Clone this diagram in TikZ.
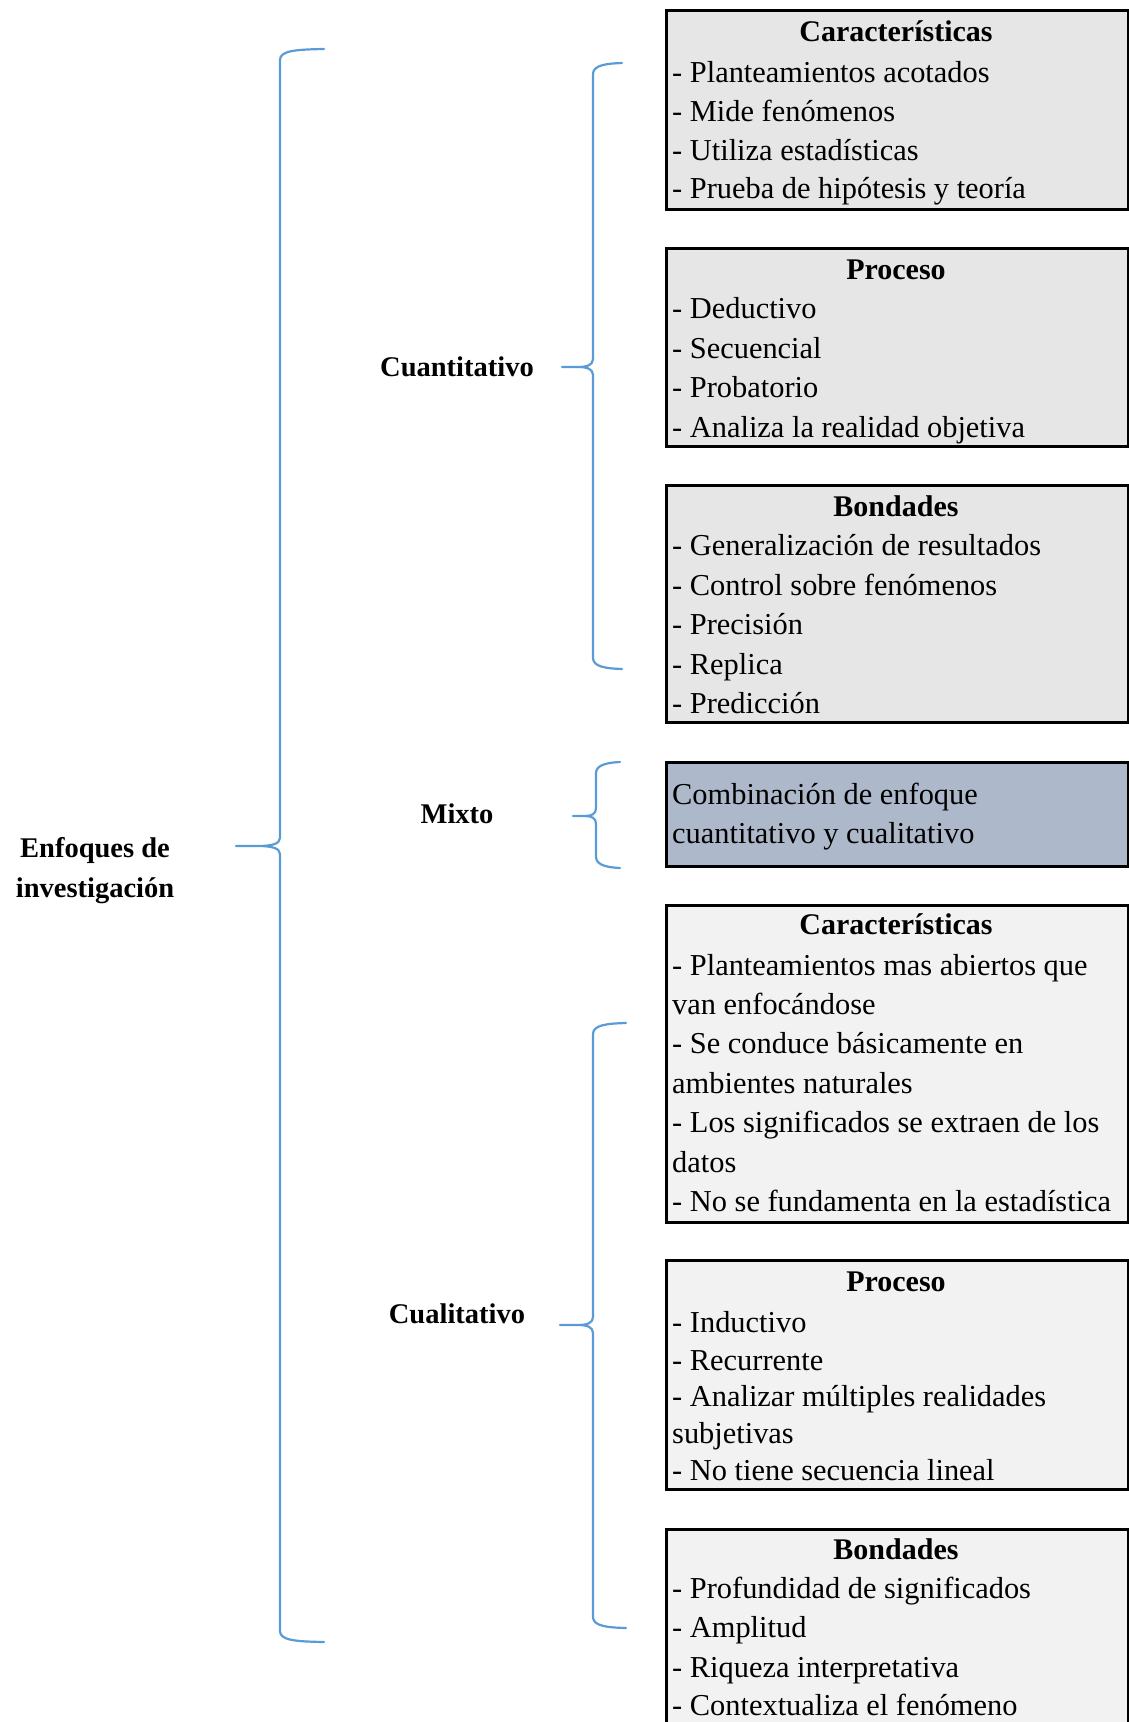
\documentclass[tikz,border=0pt]{standalone}
\usepackage{fontspec}
\setmainfont{Liberation Serif}
\usetikzlibrary{calc}
\definecolor{bracecol}{HTML}{5B9BD5}
\definecolor{qfill}{HTML}{E7E6E6}
\definecolor{lfill}{HTML}{F2F2F2}
\definecolor{mfill}{HTML}{ADB9CA}

% curly brace: name, spine x, top y, bottom y, tip y, tip x, end x, tip curve length
\newcommand\curlyb[8]{%
  \coordinate (#1-tip) at (#6,#5);
  \coordinate (#1-top) at (#7,#3);
  \coordinate (#1-bot) at (#7,#4);
  \draw[bracepath] (#1-top) .. controls (#2+14,#3+0.5) and (#2,#3+2) .. (#2,#3+11)
    -- (#2,#5-8) .. controls (#2,#5-2) and (#2-0.4*#8,#5) .. (#2-#8,#5) -- (#1-tip)
    (#2-#8,#5) .. controls (#2-0.4*#8,#5) and (#2,#5+2) .. (#2,#5+8)
    -- (#2,#4-11) .. controls (#2,#4-2) and (#2+14,#4-0.5) .. (#1-bot);
}

\begin{document}
\begin{tikzpicture}[x=1pt,y=-1pt,
  bracepath/.style={draw=bracecol, line width=2.2pt, line cap=round, line join=round},
  panel/.style={draw=black, line width=2.8pt, rectangle, inner sep=0pt,
    anchor=north west, minimum width=462pt},
  item/.style={anchor=base west, inner sep=0pt, font=\fontsize{30.4}{36}\selectfont},
  head/.style={anchor=base, inner sep=0pt, font=\fontsize{30}{36}\selectfont\bfseries},
  topic/.style={anchor=base, inner sep=0pt, font=\fontsize{28.5}{36}\selectfont\bfseries},
]
\useasboundingbox (0,0) rectangle (1129,1722);
\clip (0,0) rectangle (1129,1722);

% ---- panels ----
\node[panel, fill=qfill, minimum height=199pt] (qcar) at (665,9) {};
\node[panel, fill=qfill, minimum height=198pt] (qpro) at (665,247) {};
\node[panel, fill=qfill, minimum height=237pt] (qbon) at (665,484) {};
\node[panel, fill=mfill, minimum height=104pt] (mix) at (665,761) {};
\node[panel, fill=lfill, minimum height=317pt] (lcar) at (665,904) {};
\node[panel, fill=lfill, minimum height=229pt] (lpro) at (665,1259) {};
\node[panel, fill=lfill, minimum height=260pt] (lbon) at (665,1528) {};

% ---- cuantitativo: características ----
\node[head] (qcar-h) at (896,41) {Características};
\node[item] (qcar-1) at (672,82)  {- Planteamientos acotados};
\node[item] (qcar-2) at (672,121) {- Mide fenómenos};
\node[item] (qcar-3) at (672,160) {- Utiliza estadísticas};
\node[item] (qcar-4) at (672,198) {- Prueba de hipótesis y teoría};

% ---- cuantitativo: proceso ----
\node[head] (qpro-h) at (896,279) {Proceso};
\node[item] (qpro-1) at (672,318) {- Deductivo};
\node[item] (qpro-2) at (672,358) {- Secuencial};
\node[item] (qpro-3) at (672,397) {- Probatorio};
\node[item] (qpro-4) at (672,437) {- Analiza la realidad objetiva};

% ---- cuantitativo: bondades ----
\node[head] (qbon-h) at (896,516) {Bondades};
\node[item] (qbon-1) at (672,555) {- Generalización de resultados};
\node[item] (qbon-2) at (672,595) {- Control sobre fenómenos};
\node[item] (qbon-3) at (672,634) {- Precisión};
\node[item] (qbon-4) at (672,674) {- Replica};
\node[item] (qbon-5) at (672,713) {- Predicción};

% ---- mixto ----
\node[item] (mix-1) at (672,804) {Combinación de enfoque};
\node[item] (mix-2) at (672,843) {cuantitativo y cualitativo};

% ---- cualitativo: características ----
\node[head] (lcar-h) at (896,934) {Características};
\node[item] (lcar-1) at (672,975)  {- Planteamientos mas abiertos que};
\node[item] (lcar-2) at (672,1014) {van enfocándose};
\node[item] (lcar-3) at (672,1053) {- Se conduce básicamente en};
\node[item] (lcar-4) at (672,1093) {ambientes naturales};
\node[item] (lcar-5) at (672,1132) {- Los significados se extraen de los};
\node[item] (lcar-6) at (672,1172) {datos};
\node[item] (lcar-7) at (672,1211) {- No se fundamenta en la estadística};

% ---- cualitativo: proceso ----
\node[head] (lpro-h) at (896,1291) {Proceso};
\node[item] (lpro-1) at (672,1332) {- Inductivo};
\node[item] (lpro-2) at (672,1370) {- Recurrente};
\node[item] (lpro-3) at (672,1406) {- Analizar múltiples realidades};
\node[item] (lpro-4) at (672,1443) {subjetivas};
\node[item] (lpro-5) at (672,1480) {- No tiene secuencia lineal};

% ---- cualitativo: bondades ----
\node[head] (lbon-h) at (896,1559) {Bondades};
\node[item] (lbon-1) at (672,1598) {- Profundidad de significados};
\node[item] (lbon-2) at (672,1637) {- Amplitud};
\node[item] (lbon-3) at (672,1677) {- Riqueza interpretativa};
\node[item] (lbon-4) at (672,1715) {- Contextualiza el fenómeno};

% ---- labels ----
\node[topic] (root1) at (95,857) {Enfoques de};
\node[topic] (root2) at (95,897) {investigación};
\node[topic] (cuan) at (457,376) {Cuantitativo};
\node[topic] (mixto) at (457,823) {Mixto};
\node[topic] (cual) at (457,1323) {Cualitativo};

% ---- braces ----
\curlyb{bigb}{280}{49}{1642}{846}{236}{324}{22}
\curlyb{cuanb}{593}{63}{669}{367}{562}{622}{15}
\curlyb{mixb}{596}{762}{868}{816}{573}{620}{11}
\curlyb{cualb}{593}{1023}{1628}{1325}{560}{626}{15}
\end{tikzpicture}
\end{document}
